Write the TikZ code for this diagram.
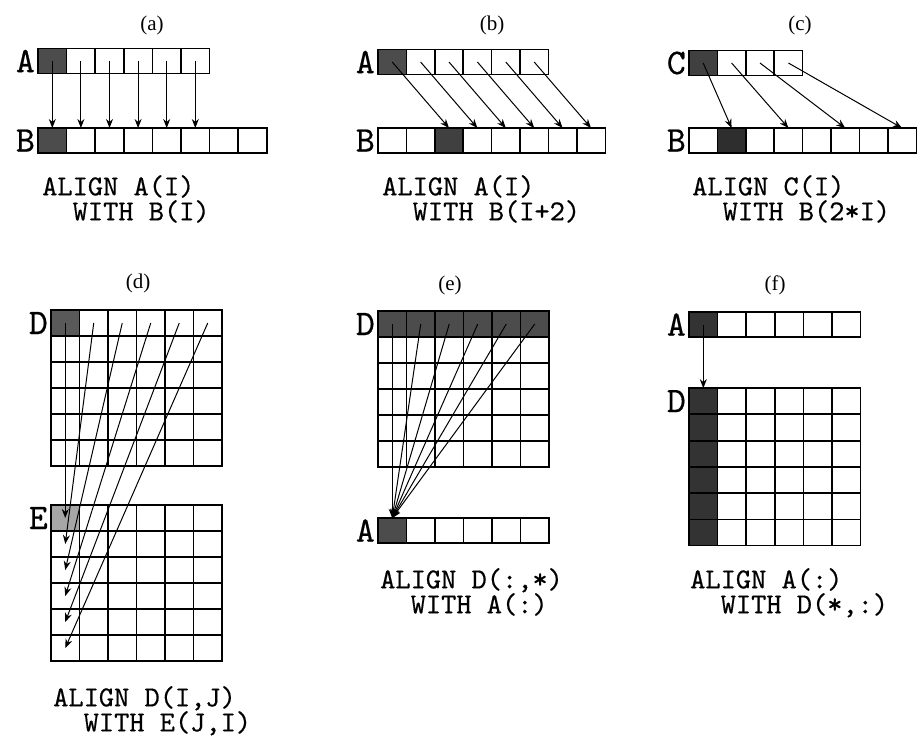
\documentclass[tikz,border=0pt]{standalone}
\usepackage{fontspec}
\setmainfont{Liberation Serif}
\newfontfamily\codefont{lmmono10-regular.otf}[FakeBold=0.5]
\usetikzlibrary{positioning, arrows.meta}

\begin{document}
\begin{tikzpicture}[
    x=1pt, y=-1pt,
    cell/.style={
        draw,
        line width=1.5pt,
        minimum width=28.5pt,
        minimum height=26pt,
        inner sep=0pt,
        outer sep=0pt
    },
    rowcell/.style={cell, minimum height=25pt},
    arrlabel/.style={font=\fontsize{36}{36}\selectfont\codefont, inner sep=0pt},
    tag/.style={font=\fontsize{21}{21}\selectfont, inner sep=0pt},
    code/.style={
        font=\fontsize{29}{25}\selectfont\codefont,
        anchor=north west,
        align=left,
        inner sep=0pt
    },
    arrow/.style={
        -{Stealth[length=9pt, width=7pt]},
        line width=1pt
    }
]
\useasboundingbox (0,0) rectangle (917,736);

% (a) A(I) with B(I)
\node[tag] (ta) at (152,25) {(a)};
\foreach \i in {1,...,6}{
    \pgfmathtruncatemacro\tone{(\i==1)*70}
    \node[rowcell, fill=black!\tone] (aA\i) at ({38+28.6*(\i-0.5)},61) {};
}
\foreach \i in {1,...,8}{
    \pgfmathtruncatemacro\tone{(\i==1)*70}
    \node[rowcell, fill=black!\tone] (aB\i) at ({38+28.6*(\i-0.5)},140.5) {};
}
\node[arrlabel, left=3pt of aA1] (aAname) {A};
\node[arrlabel, left=3pt of aB1] (aBname) {B};
\foreach \i in {1,...,6}
    \draw[arrow] (aA\i.center) -- (aB\i.north);
\node[code] (capa) at (42,175) {ALIGN A(I)\\\phantom{AL}WITH B(I)};

% (b) A(I) with B(I+2)
\node[tag] (tb) at (492,25) {(b)};
\foreach \i in {1,...,6}{
    \pgfmathtruncatemacro\tone{(\i==1)*70}
    \node[rowcell, fill=black!\tone] (bA\i) at ({378+28.4*(\i-0.5)},62) {};
}
\foreach \i in {1,...,8}{
    \pgfmathtruncatemacro\tone{(\i==3)*75}
    \node[rowcell, fill=black!\tone] (bB\i) at ({378+28.4*(\i-0.5)},140.5) {};
}
\node[arrlabel, left=3pt of bA1] (bAname) {A};
\node[arrlabel, left=3pt of bB1] (bBname) {B};
\foreach \i [evaluate=\i as \j using int(\i+2)] in {1,...,6}
    \draw[arrow] (bA\i.center) -- (bB\j.north);
\node[code] (capb) at (382,175) {ALIGN A(I)\\\phantom{AL}WITH B(I+2)};

% (c) C(I) with B(2*I)
\node[tag] (tc) at (800,25) {(c)};
\foreach \i in {1,...,4}{
    \pgfmathtruncatemacro\tone{(\i==1)*75}
    \node[rowcell, fill=black!\tone] (cC\i) at ({689+28.4*(\i-0.5)},63) {};
}
\foreach \i in {1,...,8}{
    \pgfmathtruncatemacro\tone{(\i==2)*82}
    \node[rowcell, fill=black!\tone] (cB\i) at ({689+28.4*(\i-0.5)},140.5) {};
}
\node[arrlabel, left=3pt of cC1] (cCname) {C};
\node[arrlabel, left=3pt of cB1] (cBname) {B};
\foreach \i [evaluate=\i as \j using int(2*\i)] in {1,...,4}
    \draw[arrow] (cC\i.center) -- (cB\j.north);
\node[code] (capc) at (692,175) {ALIGN C(I)\\\phantom{AL}WITH B(2*I)};

% (d) D(I,J) with E(J,I)
\node[tag] (td) at (138,283) {(d)};
\foreach \r in {1,...,6}
    \foreach \c in {1,...,6}{
        \pgfmathtruncatemacro\tone{(\r==1 && \c==1)*65}
        \node[cell, fill=black!\tone] (dD-\r-\c) at ({51+28.5*(\c-0.5)},{310+26*(\r-0.5)}) {};
    }
\foreach \r in {1,...,6}
    \foreach \c in {1,...,6}{
        \pgfmathtruncatemacro\tone{(\r==1 && \c==1)*35}
        \node[cell, fill=black!\tone] (dE-\r-\c) at ({51+28.5*(\c-0.5)},{505+26*(\r-0.5)}) {};
    }
\node[arrlabel, left=3pt of dD-1-1] (dDname) {D};
\node[arrlabel, left=3pt of dE-1-1] (dEname) {E};
\foreach \j in {1,...,6}
    \draw[arrow] (dD-1-\j.center) -- (dE-\j-1.center);
\node[code] (capd) at (53,686) {ALIGN D(I,J)\\\phantom{AL}WITH E(J,I)};

% (e) D(:,*) with A(:)
\node[tag] (te) at (450,285) {(e)};
\foreach \r in {1,...,6}
    \foreach \c in {1,...,6}{
        \pgfmathtruncatemacro\tone{(\r==1)*70}
        \node[cell, fill=black!\tone] (eD-\r-\c) at ({378+28.5*(\c-0.5)},{311+26*(\r-0.5)}) {};
    }
\foreach \i in {1,...,6}{
    \pgfmathtruncatemacro\tone{(\i==1)*70}
    \node[rowcell, fill=black!\tone] (eA\i) at ({378+28.5*(\i-0.5)},530.5) {};
}
\node[arrlabel, left=3pt of eD-1-1] (eDname) {D};
\node[arrlabel, left=3pt of eA1] (eAname) {A};
\foreach \j in {1,...,6}
    \draw[arrow] (eD-1-\j.center) -- (eA1.north);
\node[code] (cape) at (380,568) {ALIGN D(:,*)\\\phantom{AL}WITH A(:)};

% (f) A(:) with D(*,:)
\node[tag] (tf) at (775,285) {(f)};
\foreach \i in {1,...,6}{
    \pgfmathtruncatemacro\tone{(\i==1)*80}
    \node[rowcell, fill=black!\tone] (fA\i) at ({689+28.6*(\i-0.5)},324.5) {};
}
\foreach \r in {1,...,6}
    \foreach \c in {1,...,6}{
        \pgfmathtruncatemacro\tone{(\c==1)*80}
        \node[cell, fill=black!\tone] (fD-\r-\c) at ({689+28.6*(\c-0.5)},{388+26.3*(\r-0.5)}) {};
    }
\node[arrlabel, left=3pt of fA1] (fAname) {A};
\node[arrlabel, left=3pt of fD-1-1] (fDname) {D};
\draw[arrow] (fA1.center) -- (fD-1-1.north);
\node[code] (capf) at (690,568) {ALIGN A(:)\\\phantom{AL}WITH D(*,:)};

\end{tikzpicture}
\end{document}
